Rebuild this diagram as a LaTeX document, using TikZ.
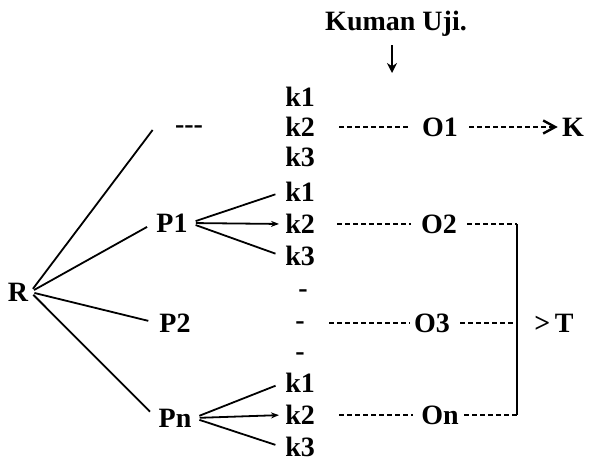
\documentclass[tikz,border=0pt]{standalone}
\usepackage{fontspec}
\setmainfont{Liberation Serif}
\usetikzlibrary{positioning,arrows.meta}
\tikzset{
  >={Stealth[length=2mm]},
  ptxt/.style={inner sep=1pt,font=\bfseries\fontsize{14}{16}\selectfont},
  kbox/.style={ptxt,anchor=west},
  tie/.style={line width=0.9pt},
  fan/.style={tie,shorten <=3pt,shorten >=4pt},
  dots/.style={line width=1.2pt,dash pattern=on 2.5pt off 1.5pt},
  ktip/.style={-{Stealth[length=4pt,width=3pt]}},
}

\begin{document}
\begin{tikzpicture}[x=0.5pt,y=-0.5pt,node distance=3pt and 0pt]
  \useasboundingbox (0,0) rectangle (593,460);
  \node[ptxt] (uji) at (396,24) {Kuman Uji.};
  \coordinate (ujiend) at (392,73);
  \draw[tie,shorten <=3pt,-{Stealth[length=5pt,width=5pt]}] (uji.south -| ujiend) -- (ujiend);

  \node[ptxt] (R) at (18,292) {R};
  \node[ptxt] (p0) at (189,130) {-{}-{}-};
  \node[ptxt] (p1) at (172,223) {P1};
  \node[ptxt] (p2) at (175,323) {P2};
  \node[ptxt] (pn) at (175,418) {Pn};

  % k columns, middle one placed, the others stacked on it
  \node[kbox] (ka2) at (283,127) {k2};
  \node[ptxt,above=of ka2] (ka1) {k1};
  \node[ptxt,below=of ka2] (ka3) {k3};
  \node[kbox] (kb2) at (283,224) {k2};
  \node[ptxt,above=4pt of kb2] (kb1) {k1};
  \node[ptxt,below=4pt of kb2] (kb3) {k3};
  \node[kbox] (kn2) at (283,415) {k2};
  \node[ptxt,above=4pt of kn2] (kn1) {k1};
  \node[ptxt,below=4pt of kn2] (kn3) {k3};
  \node[ptxt] (d1) at (303,294) {-};
  \node[ptxt] (d2) at (300,326) {-};
  \node[ptxt] (d3) at (300,357) {-};

  \node[ptxt] (o1) at (440,127) {O1};
  \node[ptxt] (o2) at (439,224) {O2};
  \node[ptxt] (o3) at (432,323) {O3};
  \node[ptxt] (on) at (440,415) {On};
  \node[ptxt] (K) at (573,127) {K};
  \node[ptxt] (T) at (554,323) {>\,T};
  \coordinate (b2) at (517,224);
  \coordinate (b3) at (517,323);
  \coordinate (bn) at (517,415);

  \draw[tie,shorten <=2pt] (R.east) -- ([xshift=-10pt]p0.west);
  \draw[tie,shorten <=2pt,shorten >=4pt] (R.east) -- (p1.west);
  \draw[tie,shorten <=2pt,shorten >=4.5pt] (R.east) -- (p2.west);
  \draw[tie,shorten <=2pt,shorten >=4.5pt] (R.east) -- (pn.west);

  \draw[fan] (p1.east) -- (kb1.west);
  \draw[fan,ktip,shorten >=2pt] (p1.east) -- (kb2.west);
  \draw[fan] (p1.east) -- (kb3.west);
  \draw[fan] (pn.east) -- (kn1.west);
  \draw[fan,ktip,shorten >=2pt] (pn.east) -- (kn2.west);
  \draw[fan] (pn.east) -- (kn3.west);

  \draw[dots,shorten <=11pt,shorten >=5pt] (ka2.east) -- (o1.west);
  \draw[dots,shorten <=10pt,shorten >=4pt] (kb2.east) -- (o2.west);
  \draw[dots,shorten <=11pt,shorten >=1pt] (d2.east |- o3) -- (o3.west);
  \draw[dots,shorten <=11pt,shorten >=3pt] (kn2.east) -- (on.west);

  \draw[dots,shorten <=4.5pt,shorten >=1pt,-{Straight Barb[length=6pt,width=6.5pt]}] (o1.east) -- (K.west);
  \draw[dots,shorten <=4pt] (o2.east) -- (b2);
  \draw[dots,shorten <=4pt] (o3.east) -- (b3);
  \draw[dots,shorten <=1.5pt] (on.east) -- (bn);
  \draw[tie] (b2) -- (bn);
\end{tikzpicture}
\end{document}
